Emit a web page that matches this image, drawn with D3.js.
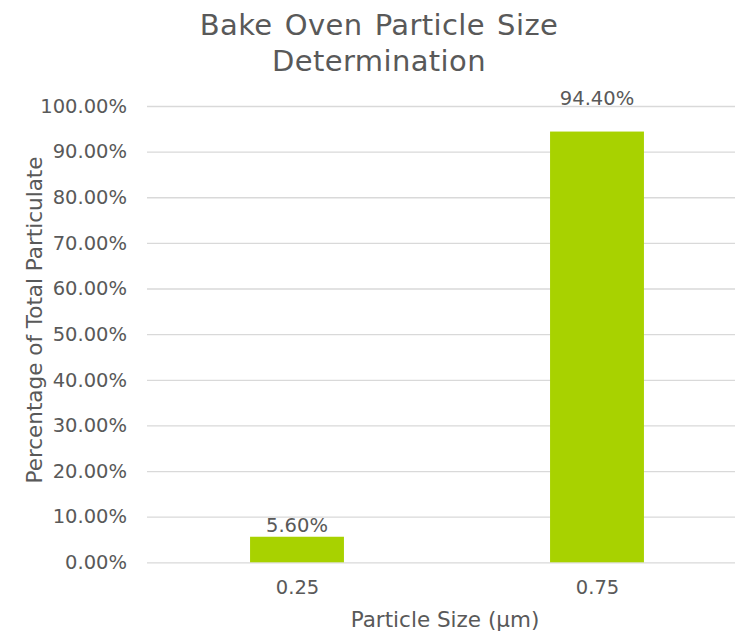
<!DOCTYPE html>
<html>
<head>
<meta charset="utf-8">
<script src="https://cdn.jsdelivr.net/npm/d3@7"></script>
<style>
  html, body { margin: 0; padding: 0; background: #fff; }
  svg { display: block; }
  text { font-family: "DejaVu Sans", Verdana, sans-serif; fill: #595959; }
</style>
</head>
<body>
<svg id="chart" width="735" height="635"></svg>
<script>
// Particle size bins and their share of total particulate
const sizes = ["0.25", "0.75"];
const shares = [0.056, 0.944];
const yTicks = [0, 0.1, 0.2, 0.3, 0.4, 0.5, 0.6, 0.7, 0.8, 0.9, 1.0];
const titleLines = ["Bake Oven Particle Size", "Determination"];
const xTitle = "Particle Size (µm)";
const yTitle = "Percentage of Total Particulate";

const svg = d3.select("#chart");
const plot = { left: 147, right: 747, top: 106, bottom: 562.3 };

const x = d3.scalePoint().domain(sizes).range([plot.left, plot.right]).padding(0.5);
const y = d3.scaleLinear().domain([0, 1]).range([plot.bottom, plot.top]);
const barWidth = x.step() * 0.313;
const fmt = d3.format(".2%");

// Horizontal gridlines with percentage tick labels
const yAxis = d3.axisLeft(y).tickValues(yTicks).tickFormat(fmt)
  .tickSize(-(plot.right - plot.left)).tickPadding(20);
const gy = svg.append("g").attr("transform", `translate(${plot.left},0)`).call(yAxis);
gy.select(".domain").remove();
gy.selectAll(".tick line").attr("stroke", "#d9d9d9").attr("stroke-width", 1.3);
gy.selectAll(".tick text").attr("font-size", "19.5px").attr("fill", "#595959")
  .attr("font-family", "DejaVu Sans, Verdana, sans-serif");

// Category labels along the bottom
const xAxis = d3.axisBottom(x).tickSize(0).tickPadding(18);
const gx = svg.append("g").attr("transform", `translate(0,${plot.bottom})`).call(xAxis);
gx.select(".domain").remove();
gx.selectAll(".tick text").attr("font-size", "19.5px").attr("fill", "#595959")
  .attr("font-family", "DejaVu Sans, Verdana, sans-serif");

// Bars
svg.append("g").selectAll("rect").data(sizes).join("rect")
  .attr("x", (d) => x(d) - barWidth / 2)
  .attr("width", barWidth)
  .attr("y", (d, i) => y(shares[i]))
  .attr("height", (d, i) => y(0) - y(shares[i]))
  .attr("fill", "#a8d200");

// Value labels above each bar (the tall bar's label sits up at the top gridline)
const labelLift = [4.5, 27];
svg.append("g").selectAll("text").data(sizes).join("text")
  .attr("x", (d) => x(d))
  .attr("y", (d, i) => y(shares[i]) - labelLift[i])
  .attr("text-anchor", "middle")
  .attr("font-size", "19.5px")
  .attr("fill", "#404040")
  .text((d, i) => fmt(shares[i]));

// Chart title
svg.append("text")
  .attr("x", 379).attr("y", 35)
  .attr("text-anchor", "middle")
  .attr("font-size", "29px")
  .attr("letter-spacing", "0.4px")
  .attr("word-spacing", "2.5px")
  .selectAll("tspan").data(titleLines).join("tspan")
  .attr("x", 379)
  .attr("dy", (d, i) => (i === 0 ? 0 : 36))
  .text((d) => d);

// Axis titles
svg.append("text")
  .attr("x", 445).attr("y", 627)
  .attr("text-anchor", "middle")
  .attr("font-size", "21.5px")
  .text(xTitle);

svg.append("text")
  .attr("transform", "translate(42,320) rotate(-90)")
  .attr("text-anchor", "middle")
  .attr("font-size", "21.5px")
  .text(yTitle);
</script>
</body>
</html>
